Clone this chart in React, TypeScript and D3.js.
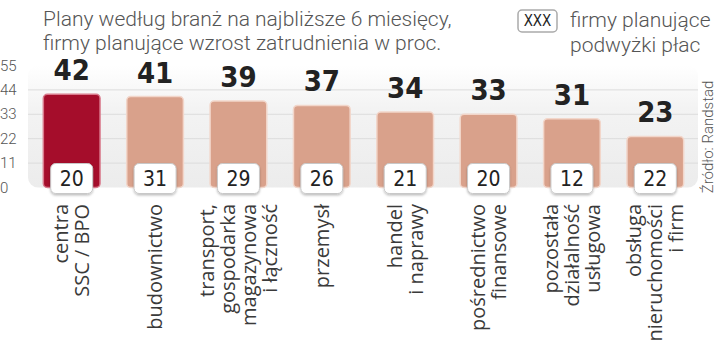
import React from 'react';
import { scaleBand, scaleLinear } from 'd3';

const categories = [
  ['centra', 'SSC / BPO'],
  ['budownictwo'],
  ['transport,', 'gospodarka', 'magazynowa', 'i łączność'],
  ['przemysł'],
  ['handel', 'i naprawy'],
  ['pośrednictwo', 'finansowe'],
  ['pozostała', 'działalność', 'usługowa'],
  ['obsługa', 'nieruchomości', 'i firm'],
];
const hiringPlans = [42, 41, 39, 37, 34, 33, 31, 23];
const wagePlans = [20, 31, 29, 26, 21, 20, 12, 22];
const yTicks = [0, 11, 22, 33, 44, 55];
const titleLines = ['Plany według branż na najbliższe 6 miesięcy,', 'firmy planujące wzrost zatrudnienia w proc.'];
const legendLines = ['firmy planujące', 'podwyżki płac'];

const width = 720;
const height = 345;
const lightFont = 'Roboto, "Noto Sans", sans-serif';
const narrowFont = '"Liberation Sans Narrow", "DejaVu Sans Condensed", sans-serif';
const labelFont = '"Open Sans", "Noto Sans", sans-serif';

const App = () => {
  const keys = categories.map((d, i) => String(i));

  const xScale = scaleBand()
    .domain(keys)
    .range([30, 697])
    .paddingInner(0.32)
    .paddingOuter(0.16);

  const yScale = scaleLinear().domain([0, 55]).range([187.5, 65.5]);

  const bw = xScale.bandwidth();
  const boxW = 42;
  const boxH = 30;

  return (
    <svg width={width} height={height} viewBox={`0 0 ${width} ${height}`}
      style={{ position: 'absolute', left: 0, top: 0, background: '#fff' }}>
      <defs>
        <linearGradient id="panel" x1="0" y1="0" x2="0" y2="1">
          <stop offset="0" stopColor="#ffffff" />
          <stop offset="0.35" stopColor="#f3f3f3" />
          <stop offset="1" stopColor="#ececec" />
        </linearGradient>
        <filter id="sh" x="-20%" y="-20%" width="140%" height="150%">
          <feDropShadow dx="0" dy="1.5" stdDeviation="1.2" floodColor="#000" floodOpacity="0.25" />
        </filter>
      </defs>

      {titleLines.map((t, i) => (
        <text key={t} x={43} y={26 + i * 24} fontFamily={lightFont} fontWeight={300}
          fontSize={21} fill="#555">{t}</text>
      ))}

      <rect x={518} y={10} width={39} height={22} rx={4} fill="#fff" stroke="#aaa" strokeWidth={1.5} />
      <text x={537.5} y={26} textAnchor="middle" fontFamily={narrowFont} fontSize={15} fill="#222">XXX</text>
      {legendLines.map((t, i) => (
        <text key={t} x={570} y={27 + i * 25} fontFamily={lightFont} fontWeight={300}
          fontSize={21} fill="#555">{t}</text>
      ))}

      <rect x={28} y={yScale(55)} width={670} height={yScale(0) - yScale(55)} rx={10}
        fill="url(#panel)" />

      {yTicks.filter(t => t > 0 && t < 55).map(t => (
        <line key={t} x1={28} x2={698} y1={yScale(t)} y2={yScale(t)} stroke="#dcdcdc" strokeWidth={1} />
      ))}

      {yTicks.map(t => (
        <text key={t} x={0} y={yScale(t) + 5} fontFamily={lightFont} fontWeight={300}
          fontSize={15} fill="#555">{t}</text>
      ))}

      {hiringPlans.map((v, i) => (
        <rect key={'b' + i} x={xScale(keys[i])} y={yScale(v)} width={bw}
          height={yScale(0) - yScale(v)} rx={4}
          fill={i === 0 ? '#a50d2b' : '#d9a18b'}
          stroke={i === 0 ? '#d97a8c' : '#f2d6ca'} strokeWidth={1.5} />
      ))}

      {hiringPlans.map((v, i) => (
        <text key={'v' + i} x={xScale(keys[i]) + bw / 2} y={yScale(v) - 14} textAnchor="middle"
          fontFamily={narrowFont} fontWeight="bold" fontSize={29} fill="#222">{v}</text>
      ))}

      {wagePlans.map((v, i) => {
        const cx = xScale(keys[i]) + bw / 2;
        return (
          <g key={'w' + i}>
            <rect x={cx - boxW / 2} y={yScale(0) - 24} width={boxW} height={boxH} rx={5}
              fill="#fff" stroke="#c8c8c8" strokeWidth={1} filter="url(#sh)" />
            <text x={cx} y={yScale(0) - 2} textAnchor="middle" fontFamily={narrowFont}
              fontSize={21} fill="#222">{v}</text>
          </g>
        );
      })}

      {categories.map((lines, i) => {
        const cx = xScale(keys[i]) + bw / 2;
        const lh = 21;
        return (
          <g key={'c' + i} transform={`translate(${cx},204) rotate(-90)`}>
            {lines.map((l, j) => (
              <text key={l} x={0} y={(j - (lines.length - 1) / 2) * lh + 7} textAnchor="end"
                fontFamily={labelFont} fontSize={20} fill="#3a3a3a">{l}</text>
            ))}
          </g>
        );
      })}

      <text transform={`translate(713,137) rotate(-90)`} textAnchor="middle"
        fontFamily={lightFont} fontWeight={300} fontSize={15} fill="#555">Źródło: Randstad</text>
    </svg>
  );
};

export default App;
